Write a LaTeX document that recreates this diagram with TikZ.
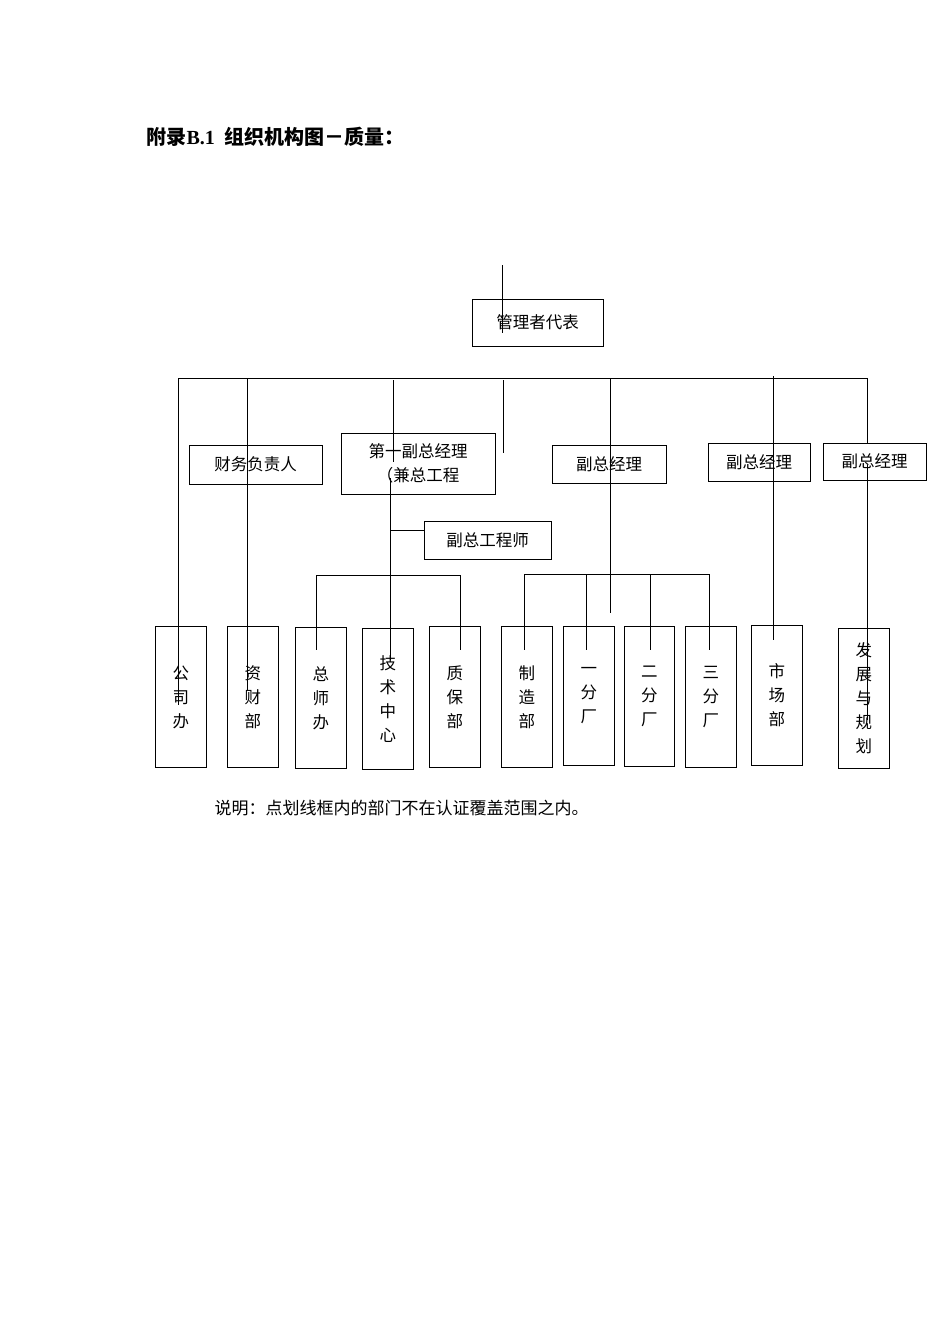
\documentclass[tikz,border=0pt]{standalone}
\usepackage{fontspec}
\setmainfont{Liberation Serif}
\newfontfamily\cjk{Noto Sans CJK SC}
\usetikzlibrary{positioning}
\tikzset{
  box/.style={draw, line width=0.9pt, inner sep=0pt, font=\cjk\fontsize{16.5}{24}\selectfont},
  vbox/.style={box, minimum width=51pt, minimum height=141pt, align=center, anchor=north west},
  ln/.style={line width=0.8pt}
}
\begin{document}
\begin{tikzpicture}[x=1pt,y=-1pt]
  \useasboundingbox (0,0) rectangle (950,1344);
  % title
  \node[anchor=west, font=\bfseries\fontsize{20}{22}\selectfont] (title) at (143,137) {{\cjk 附录}B.1\ \ {\cjk 组织机构图－质量：}};

  % upper boxes
  \node[box, minimum width=131pt, minimum height=47pt] (gl) at (537.5,322.5) {管理者代表};
  \node[box, minimum width=133pt, minimum height=39pt] (cw) at (255.5,464.5) {财务负责人};
  \node[box, minimum width=154pt, minimum height=61pt, align=center] (fz) at (418,463.5) {第一副总经理\\（兼总工程};
  \node[box, minimum width=127pt, minimum height=38pt] (zg) at (487.5,540) {副总工程师};
  \node[box, minimum width=114pt, minimum height=38pt] (f1) at (609,464) {副总经理};
  \node[box, minimum width=102pt, minimum height=38pt] (f2) at (759,462) {副总经理};
  \node[box, minimum width=103pt, minimum height=37pt] (f3) at (874.5,461.5) {副总经理};

  % lower boxes
  \node[vbox] (gs) at (155,626) {公\\司\\办};
  \node[vbox] (zc) at (227,626) {资\\财\\部};
  \node[vbox] (zs) at (295,627) {总\\师\\办};
  \node[vbox] (js) at (362,628) {技\\术\\中\\心};
  \node[vbox] (zb) at (429,626) {质\\保\\部};
  \node[vbox] (zz) at (501,626) {制\\造\\部};
  \node[vbox, minimum height=139pt] (yf) at (563,626) {一\\分\\厂};
  \node[vbox, minimum width=50pt, minimum height=140pt] (ef) at (624,626) {二\\分\\厂};
  \node[vbox, minimum height=141pt] (sf) at (685,626) {三\\分\\厂};
  \node[vbox, minimum height=140pt] (sc) at (751,625) {市\\场\\部};
  \node[vbox, minimum height=140pt] (fz2) at (838,628) {发\\展\\与\\规\\划};

  % main bus
  \draw[ln] (502,265) -- (502,333);
  \draw[ln] (178,378) -- (867,378);
  \draw[ln] (178,378) -- (178,705);
  \draw[ln] (247,378) -- (247,690);
  \draw[ln] (393,380) -- (393,462);
  \draw[ln] (503,380) -- (503,453);
  \draw[ln] (610,378) -- (610,613);
  \draw[ln] (773,376) -- (773,640);
  \draw[ln] (867,378) -- (f3.north -| 867,0);
  \draw[ln] (867,465) -- (867,720);

  % first vice GM branch
  \draw[ln] (390,478) -- (390,660);
  \draw[ln] (390,530) -- (zg.west |- 390,530);
  \draw[ln] (316,575) -- (460,575);
  \draw[ln] (316,575) -- (316,650);
  \draw[ln] (460,575) -- (460,650);

  % vice GM branch
  \draw[ln] (524,574) -- (710,574);
  \foreach \x in {524,586,650,709}
    \draw[ln] (\x,574) -- (\x,650);

  % note
  \node[anchor=west, font=\cjk\fontsize{17}{18}\selectfont] (note) at (211,808) {说明：点划线框内的部门不在认证覆盖范围之内。};
\end{tikzpicture}
\end{document}
